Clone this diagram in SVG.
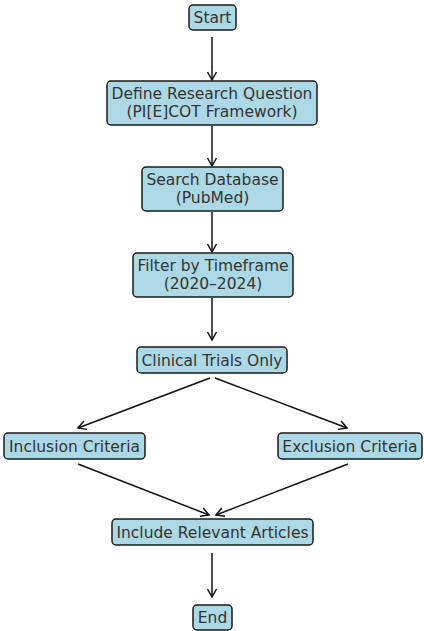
<svg xmlns="http://www.w3.org/2000/svg" width="424" height="631" viewBox="0 0 424 631">
<defs>
<marker id="ah" markerWidth="12" markerHeight="12" viewBox="0 0 12 12" refX="10" refY="6" orient="auto" markerUnits="userSpaceOnUse">
<path d="M2,1.5 L10,6 L2,10.5" fill="none" stroke="#111" stroke-width="1.5"/>
</marker>
</defs>
<style>
.box{fill:#add8e6;stroke:#1a1a1a;stroke-width:1.5}
.t{font-family:"DejaVu Sans",sans-serif;font-size:15.5px;fill:#333;text-anchor:middle}
.c{stroke:#111;stroke-width:1.5;fill:none;marker-end:url(#ah)}
</style>
<rect width="424" height="631" fill="#fff"/>
<g id="connectors">
<line class="c" x1="212" y1="37" x2="212" y2="80"/>
<line class="c" x1="212" y1="126" x2="212" y2="166"/>
<line class="c" x1="212" y1="212" x2="212" y2="252"/>
<line class="c" x1="212" y1="298" x2="212" y2="340"/>
<line class="c" x1="210" y1="378" x2="78" y2="428"/>
<line class="c" x1="215" y1="378" x2="347" y2="428"/>
<line class="c" x1="78" y1="464" x2="209" y2="515"/>
<line class="c" x1="348" y1="464" x2="216" y2="515"/>
<line class="c" x1="212" y1="553" x2="212" y2="597"/>
</g>
<g id="start"><rect class="box" x="189" y="5" width="47" height="25" rx="4"/><text class="t" x="212.5" y="23">Start</text></g>
<g id="define"><rect class="box" x="107" y="81" width="210" height="44" rx="4"/><text class="t" x="212" y="99">Define Research Question</text><text class="t" x="212" y="117">(PI[E]COT Framework)</text></g>
<g id="search"><rect class="box" x="142" y="167" width="141" height="44" rx="4"/><text class="t" x="212.5" y="185">Search Database</text><text class="t" x="212.5" y="203">(PubMed)</text></g>
<g id="filter"><rect class="box" x="133" y="253" width="160" height="44" rx="4"/><text class="t" x="213" y="271">Filter by Timeframe</text><text class="t" x="213" y="289">(2020–2024)</text></g>
<g id="clinical"><rect class="box" x="137" y="347" width="150" height="26" rx="4"/><text class="t" x="212" y="365.5">Clinical Trials Only</text></g>
<g id="inclusion"><rect class="box" x="4" y="433" width="141" height="26" rx="4"/><text class="t" x="74.5" y="451.5">Inclusion Criteria</text></g>
<g id="exclusion"><rect class="box" x="278" y="433" width="144" height="26" rx="4"/><text class="t" x="350" y="451.5">Exclusion Criteria</text></g>
<g id="include"><rect class="box" x="112" y="519" width="201" height="26" rx="4"/><text class="t" x="212.5" y="537.5">Include Relevant Articles</text></g>
<g id="end"><rect class="box" x="193" y="605" width="39" height="25" rx="4"/><text class="t" x="212.5" y="623">End</text></g>
</svg>
